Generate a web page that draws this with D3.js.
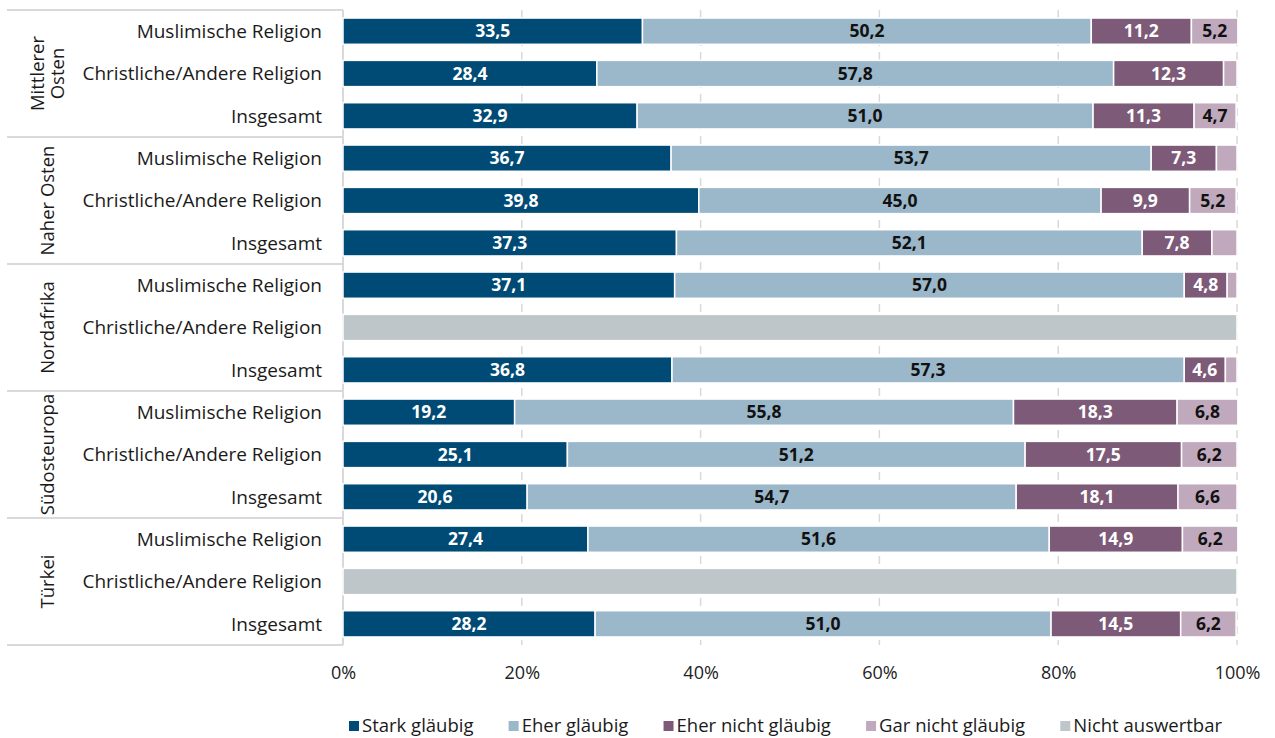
<!DOCTYPE html>
<html><head><meta charset="utf-8">
<script src="https://cdn.jsdelivr.net/npm/d3@7"></script>
<style>
html,body{margin:0;padding:0;background:#fff;}
svg{display:block;font-family:"Open Sans", sans-serif;}
</style></head>
<body><svg id="chart" width="1275" height="738"></svg>
<script>
const groups = ["Mittlerer Osten","Naher Osten","Nordafrika","Südosteuropa","Türkei"];
const categories = ["Muslimische Religion","Christliche/Andere Religion","Insgesamt"];
const seriesNames = ["Stark gläubig","Eher gläubig","Eher nicht gläubig","Gar nicht gläubig","Nicht auswertbar"];
const starkGlaeubig   = [33.5,28.4,32.9, 36.7,39.8,37.3, 37.1,0,36.8, 19.2,25.1,20.6, 27.4,0,28.2];
const eherGlaeubig    = [50.2,57.8,51.0, 53.7,45.0,52.1, 57.0,0,57.3, 55.8,51.2,54.7, 51.6,0,51.0];
const eherNichtGlaeubig = [11.2,12.3,11.3, 7.3,9.9,7.8, 4.8,0,4.6, 18.3,17.5,18.1, 14.9,0,14.5];
const garNichtGlaeubig  = [5.2,1.5,4.7, 2.3,5.2,2.8, 1.1,0,1.3, 6.8,6.2,6.6, 6.2,0,6.2];
const nichtAuswertbar   = [0,0,0, 0,0,0, 0,100,0, 0,0,0, 0,100,0];
const tickValues = [0,20,40,60,80,100];

const colors = ["#004b76","#9bb7ca","#7d5a78","#c0a9bd","#bec6ca"];
const labelColors = ["#ffffff","#111111","#ffffff","#111111","#111111"];
const seriesArrays = [starkGlaeubig,eherGlaeubig,eherNichtGlaeubig,garNichtGlaeubig,nichtAuswertbar];

const rows = [];
groups.forEach((g,gi)=>categories.forEach((c,ci)=>{
  const i = gi*3+ci;
  const r = {id:i, group:g, cat:c};
  seriesNames.forEach((s,si)=>r[s]=seriesArrays[si][i]);
  rows.push(r);
}));

const svg = d3.select("#chart");
const mLeft = 343, mRight = 1237, mTop = 10, mBottom = 645;
const x = d3.scaleLinear().domain([0,100]).range([mLeft,mRight]);
const y = d3.scaleBand().domain(rows.map(r=>r.id)).range([mTop,mBottom]).paddingInner(0.38).paddingOuter(0.19);

// grid
svg.append("g").selectAll("line").data(tickValues.filter(t=>t>0)).join("line")
  .attr("x1",d=>x(d)).attr("x2",d=>x(d)).attr("y1",mTop).attr("y2",mBottom)
  .attr("stroke","#d9d9d9").attr("stroke-width",1.5).attr("stroke-dasharray","8,6");

// group separators
const groupH = (mBottom-mTop)/groups.length;
const sep = svg.append("g");
for(let i=0;i<=groups.length;i++){
  const yy = mTop + i*groupH;
  sep.append("line").attr("x1",7).attr("x2",mLeft).attr("y1",yy).attr("y2",yy)
    .attr("stroke","#d9d9d9").attr("stroke-width",2);
}
sep.append("line").attr("x1",mLeft).attr("x2",mLeft).attr("y1",mTop).attr("y2",mBottom)
  .attr("stroke","#d9d9d9").attr("stroke-width",2);

// stacked bars
const stack = d3.stack().keys(seriesNames);
const stacked = stack(rows);
const bars = svg.append("g");
stacked.forEach((layer,si)=>{
  const g = bars.append("g");
  g.selectAll("rect").data(layer.filter(d=>d[1]-d[0]>0)).join("rect")
    .attr("x",d=>x(d[0])).attr("width",d=>x(d[1])-x(d[0]))
    .attr("y",d=>y(d.data.id)).attr("height",y.bandwidth())
    .attr("fill",colors[si]).attr("stroke","#fff").attr("stroke-width",1.5);
  if(si<4){
    g.selectAll("text").data(layer.filter(d=>d[1]-d[0]>=3)).join("text")
      .attr("x",d=>(x(d[0])+x(d[1]))/2).attr("y",d=>y(d.data.id)+y.bandwidth()/2)
      .attr("dy","0.36em").attr("text-anchor","middle")
      .attr("fill",labelColors[si]).attr("font-weight","bold").attr("font-size",17.5)
      .text(d=>d3.format(".1f")(d[1]-d[0]).replace(".",","));
  }
});

// category labels
svg.append("g").selectAll("text").data(rows).join("text")
  .attr("x",322).attr("y",d=>y(d.id)+y.bandwidth()/2).attr("dy","0.36em")
  .attr("text-anchor","end").attr("font-size",19).attr("fill","#1a1a1a")
  .text(d=>d.cat);

// group labels
groups.forEach((g,gi)=>{
  const cy = mTop + gi*groupH + groupH/2;
  const words = g==="Mittlerer Osten" ? ["Mittlerer","Osten"] : [g];
  const t = svg.append("text").attr("transform",`translate(47,${cy}) rotate(-90)`)
    .attr("text-anchor","middle").attr("font-size",18.5).attr("fill","#1a1a1a");
  words.forEach((w,wi)=>{
    t.append("tspan").attr("x",0).attr("y",(wi-(words.length-1)/2)*20).attr("dy","0.36em").text(w);
  });
});

// x axis
const xAxis = d3.axisBottom(x).tickValues(tickValues).tickFormat(d=>d+"%").tickSize(0);
const ax = svg.append("g").attr("transform",`translate(0,${mBottom})`).call(xAxis);
ax.select(".domain").remove();
ax.selectAll("text").attr("font-size",18).attr("fill","#222").attr("dy","0").attr("y",34)
  .attr("font-family","'Open Sans', sans-serif");

// legend
const leg = svg.append("g");
const items = [];
seriesNames.forEach((s,i)=>{
  const gi = leg.append("g");
  gi.append("rect").attr("x",0).attr("y",-4).attr("width",10).attr("height",10).attr("fill",colors[i]);
  const tx = gi.append("text").attr("x",13).attr("y",0).attr("dy","0.36em").attr("font-size",18.5).attr("fill","#1a1a1a").text(s);
  const w = 13 + tx.node().getComputedTextLength();
  items.push({gi,w});
});
const legStart = 349, legEnd = 1222;
const gap = (legEnd - legStart - d3.sum(items,d=>d.w)) / (items.length-1);
let lx = legStart;
items.forEach(it=>{ it.gi.attr("transform",`translate(${lx},725)`); lx += it.w + gap; });
</script></body></html>
